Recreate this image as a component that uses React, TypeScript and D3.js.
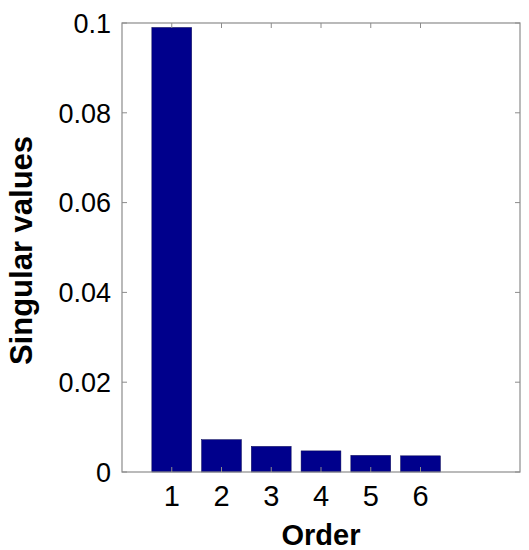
import React from "react";
import * as d3 from "d3";

const categories = [1, 2, 3, 4, 5, 6];
const values = [0.099, 0.0072, 0.0057, 0.0047, 0.0037, 0.0036];
const yTicks = [0, 0.02, 0.04, 0.06, 0.08, 0.1];
const yTickLabels = ["0", "0.02", "0.04", "0.06", "0.08", "0.1"];
const xLabel = "Order";
const yLabel = "Singular values";

const W = 529;
const H = 550;
const margin = { left: 122, right: 9, top: 23, bottom: 78 };

export default function App() {
  const x = d3.scaleLinear().domain([0, 8]).range([margin.left, W - margin.right]);
  const y = d3.scaleLinear().domain([0, 0.1]).range([H - margin.bottom, margin.top]);
  const bw = (x(1) - x(0)) * 0.8;
  const axisColor = "#8c8c8c";
  const tl = 5;
  const font = "Liberation Sans, Arial, sans-serif";
  const x0 = x(0), x1 = x(8), y0 = y(0), y1 = y(0.1);
  return (
    <svg width={W} height={H} style={{ position: "absolute", left: 0, top: 0, background: "#fff" }} fontFamily={font}>
      <rect x={0} y={0} width={W} height={H} fill="#fff" />
      {categories.map((c, i) => (
        <rect key={c} x={x(c) - bw / 2} y={y(values[i])} width={bw} height={y(0) - y(values[i])} fill="#00008C" stroke="#000050" strokeWidth={0.5} />
      ))}
      <rect x={x0} y={y1} width={x1 - x0} height={y0 - y1} fill="none" stroke={axisColor} strokeWidth={1.2} />
      {categories.map((c) => (
        <g key={c}>
          <line x1={x(c)} x2={x(c)} y1={y0} y2={y0 - tl} stroke={axisColor} />
          <line x1={x(c)} x2={x(c)} y1={y1} y2={y1 + tl} stroke={axisColor} />
          <text x={x(c)} y={y0 + 33.5} textAnchor="middle" fontSize={29} fill="#000">{c}</text>
        </g>
      ))}
      {yTicks.map((t, i) => (
        <g key={t}>
          <line x1={x0} x2={x0 + tl} y1={y(t)} y2={y(t)} stroke={axisColor} />
          <line x1={x1} x2={x1 - tl} y1={y(t)} y2={y(t)} stroke={axisColor} />
          <text x={x0 - 11} y={y(t) + 9.7} textAnchor="end" fontSize={27} fill="#000">{yTickLabels[i]}</text>
        </g>
      ))}
      <text x={(x0 + x1) / 2} y={545} textAnchor="middle" fontSize={29} fontWeight="bold" fill="#000">{xLabel}</text>
      <text transform={`translate(32,250.5) rotate(-90)`} textAnchor="middle" fontSize={31} fontWeight="bold" fill="#000">{yLabel}</text>
    </svg>
  );
}
